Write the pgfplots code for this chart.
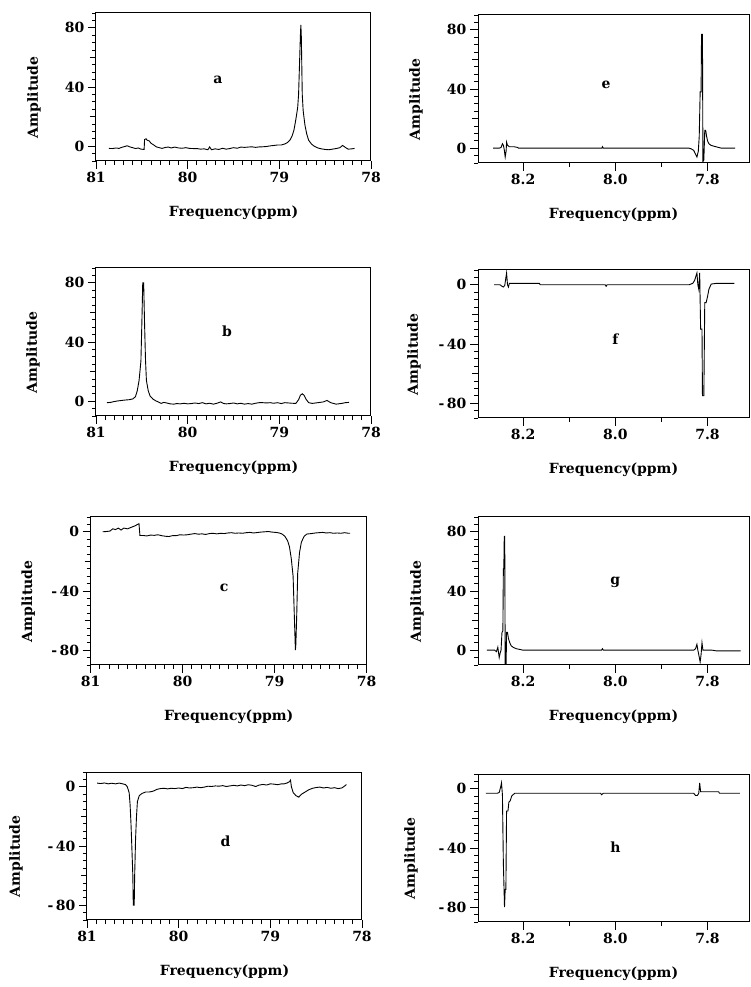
\documentclass[border=0pt]{standalone}
\usepackage{fontspec}
\setmainfont{DejaVu Serif}
\usepackage{pgfplots}
\pgfplotsset{compat=1.18}

\newcommand{\lab}{\fontsize{14}{16}\selectfont\bfseries}
\pgfplotsset{
  nmr/.style={
    scale only axis, height=148pt,
    x dir=reverse, tick align=outside, tick pos=left,
    axis line style={line width=1pt},
    major tick length=8pt, minor tick length=4pt,
    every tick/.append style={black, line width=0.8pt},
    tick label style={font=\lab},
    label style={font=\lab},
    xlabel={Frequency(ppm)}, ylabel={Amplitude},
    xlabel style={at={(axis description cs:0.5,-0.351)}, anchor=center},
    every axis plot post/.append style={black, line width=0.9pt, mark=none},
  },
  ylab/.style={ylabel style={at={(axis description cs:#1,0.43)}, anchor=center}},
  ppmlow/.style={nmr, width=275pt, xmin=78, xmax=81,
    xtick={78,79,80,81}, xticklabels={78,79,80,81}, minor x tick num=9},
  ppmhigh/.style={nmr, width=271pt, xmin=7.71, xmax=8.298,
    xtick={7.8,8.0,8.2}, xticklabels={7.8,8.0,8.2}, minor xtick={7.9,8.1}},
  pos/.style={ymin=-10, ymax=90, ytick={0,40,80}, yticklabels={0,40,80},
    minor ytick={-10,-5,...,90},
    extra y ticks={20,60}, extra y tick labels={}, extra y tick style={major tick length=6pt}},
  neg/.style={ymin=-90, ymax=10, ytick={-80,-40,0},
    yticklabels={-\hspace{2.5pt}80,-\hspace{2.5pt}40,0},
    minor ytick={-90,-85,...,10},
    extra y ticks={-60,-20}, extra y tick labels={}, extra y tick style={major tick length=6pt}},
}

\begin{document}
\begin{tikzpicture}
\path[use as bounding box] (0,0) rectangle (750pt,987pt);

% a
\begin{axis}[ppmlow, pos, ylab=-0.2255, at={(96pt,826pt)}, anchor=south west]
\addplot coordinates {
(80.86,-1.5)(80.82,-1.6)(80.78,-1.2)(80.75,-1.5)(80.72,-0.8)(80.69,-0.3)(80.66,0.3)
(80.63,-0.5)(80.60,-1.0)(80.57,-1.6)(80.54,-1.2)(80.51,-2.0)(80.475,-2.2)(80.47,4.5)
(80.455,5.0)(80.44,4.0)(80.42,3.6)(80.40,2.0)(80.37,0.8)(80.34,-0.5)(80.31,-1.0)
(80.28,-1.5)(80.24,-0.8)(80.21,-0.6)(80.18,-1.2)(80.14,-0.6)(80.10,-1.2)(80.06,-1.4)
(80.02,-1.0)(79.98,-1.5)(79.94,-1.6)(79.90,-1.6)(79.86,-2.0)(79.82,-1.8)(79.78,-2.4)
(79.76,-0.5)(79.74,-2.4)(79.70,-1.8)(79.66,-2.2)(79.62,-1.4)(79.58,-2.0)(79.54,-1.6)
(79.50,-1.0)(79.46,-1.4)(79.42,-0.6)(79.38,-0.8)(79.34,-0.6)(79.30,-0.4)(79.26,-0.8)
(79.22,-0.5)(79.18,-0.4)(79.14,-0.2)(79.10,0.2)(79.06,0.5)(79.02,0.8)(78.98,0.8)
(78.94,1.5)(78.91,2.5)(78.88,4.5)(78.86,7)(78.84,11)(78.82,18)(78.80,26)(78.79,35)
(78.78,55)(78.77,75)(78.765,82)(78.76,74)(78.75,35)(78.74,24)(78.72,14)(78.70,8)
(78.68,4)(78.65,1.5)(78.62,0)(78.58,-1.2)(78.54,-1.8)(78.50,-2.2)(78.46,-2.4)
(78.42,-2.0)(78.38,-1.6)(78.34,-1.0)(78.31,0.5)(78.28,-0.8)(78.25,-2.0)(78.21,-1.8)
(78.18,-1.5)
};
\node[font=\lab] at (axis cs:79.67,45) {a};
\end{axis}

% b
\begin{axis}[ppmlow, pos, ylab=-0.229, at={(96pt,571pt)}, anchor=south west]
\addplot coordinates {
(80.88,-1.0)(80.84,-0.8)(80.80,-0.2)(80.76,0.2)(80.72,0.5)(80.68,0.8)(80.64,1.0)
(80.60,1.5)(80.57,3)(80.55,7)(80.53,14)(80.51,27)(80.50,52)(80.49,80)(80.48,80)
(80.47,52)(80.46,28)(80.45,14)(80.43,7)(80.41,3.5)(80.38,1.5)(80.35,0.3)(80.32,-0.5)
(80.29,-1.5)(80.26,-0.8)(80.23,-1.2)(80.19,-1.8)(80.15,-2.0)(80.12,-1.6)(80.08,-1.8)
(80.04,-1.4)(80.0,-1.8)(79.96,-1.6)(79.92,-1.2)(79.88,-1.6)(79.84,-1.0)(79.80,-1.8)
(79.76,-1.4)(79.72,-2.0)(79.68,-1.4)(79.64,-0.5)(79.61,-1.5)(79.58,-1.8)(79.54,-1.6)
(79.50,-1.2)(79.46,-1.8)(79.42,-1.4)(79.38,-2.0)(79.34,-1.6)(79.30,-2.0)(79.26,-1.4)
(79.22,-1.0)(79.18,-1.0)(79.14,-1.2)(79.10,-1.0)(79.06,-1.4)(79.02,-1.0)(78.98,-1.6)
(78.94,-1.0)(78.90,-1.2)(78.86,-1.4)(78.82,-1.5)(78.79,1)(78.77,4)(78.75,5)(78.73,4)
(78.71,1.5)(78.68,-1)(78.64,-1.5)(78.58,-1)(78.52,-0.5)(78.48,0.5)(78.44,-1)
(78.38,-2)(78.32,-1.5)(78.28,-1.0)(78.24,-0.8)
};
\node[font=\lab] at (axis cs:79.57,47) {b};
\end{axis}

% c
\begin{axis}[ppmlow, neg, width=276pt, ylab=-0.226, at={(90.7pt,322pt)}, anchor=south west]
\addplot coordinates {
(80.87,0)(80.83,0.2)(80.79,0.5)(80.76,2)(80.73,1.5)(80.70,2.5)(80.67,1.2)(80.64,2.5)
(80.60,2)(80.56,3)(80.52,4)(80.49,5)(80.475,5.5)(80.465,-2.5)(80.43,-2.5)(80.39,-2.8)
(80.35,-2.2)(80.31,-2.4)(80.27,-2.0)(80.23,-2.6)(80.19,-3.0)(80.15,-3.2)(80.11,-2.6)
(80.07,-2.6)(80.03,-2.0)(79.99,-2.2)(79.95,-2.0)(79.91,-1.6)(79.87,-1.2)(79.83,-1.6)
(79.79,-1.4)(79.75,-1.8)(79.71,-1.2)(79.67,-1.0)(79.63,-1.4)(79.59,-1.0)(79.55,-1.2)
(79.51,-0.8)(79.47,-0.6)(79.43,-1.0)(79.39,-0.8)(79.35,-1.0)(79.31,-0.6)(79.27,-0.4)
(79.23,-0.8)(79.19,-0.5)(79.15,-0.2)(79.11,0)(79.07,0.2)(79.03,-0.2)(78.99,-0.4)
(78.95,-0.8)(78.92,-1.5)(78.89,-3)(78.86,-6)(78.84,-10)(78.82,-18)(78.80,-30)
(78.79,-50)(78.78,-70)(78.775,-80)(78.77,-76)(78.76,-55)(78.75,-28)(78.73,-14)
(78.71,-7)(78.68,-3)(78.65,-1.5)(78.60,-1.2)(78.56,-0.8)(78.52,-0.6)(78.48,-0.4)
(78.44,-0.8)(78.40,-0.6)(78.36,-1.0)(78.32,-0.8)(78.28,-1.0)(78.24,-0.6)(78.20,-1.0)
(78.18,-1.0)
};
\node[font=\lab] at (axis cs:79.55,-37.8) {c};
\end{axis}

% d
\begin{axis}[ppmlow, neg, ylab=-0.258, at={(87pt,67pt)}, anchor=south west]
\addplot coordinates {
(80.89,2.5)(80.85,2.2)(80.81,2.6)(80.77,2.0)(80.73,2.4)(80.69,2.0)(80.65,2.5)(80.61,2.0)
(80.58,1.5)(80.56,0)(80.54,-4)(80.53,-12)(80.52,-25)(80.51,-42)(80.50,-60)(80.495,-80)
(80.485,-80)(80.48,-60)(80.47,-35)(80.46,-20)(80.45,-10)(80.43,-6)(80.40,-4.5)
(80.36,-3.5)(80.32,-3.5)(80.28,-3.0)(80.24,-1.8)(80.20,-1.2)(80.16,-1.0)(80.12,-1.4)
(80.08,-1.0)(80.04,-1.2)(80.0,-0.8)(79.96,-1.2)(79.92,-0.4)(79.88,-0.8)(79.84,-0.6)
(79.80,-0.2)(79.76,-0.6)(79.72,-0.2)(79.68,0.4)(79.64,0.2)(79.60,0.6)(79.56,0.4)
(79.52,0.8)(79.48,0.2)(79.44,0.6)(79.40,1.0)(79.36,0.6)(79.32,1.2)(79.28,0.8)
(79.24,1.4)(79.20,1.0)(79.16,0.2)(79.12,1.2)(79.08,1.6)(79.04,1.2)(79.0,2.0)
(78.96,1.8)(78.92,1.4)(78.88,2.0)(78.85,2.0)(78.82,2.5)(78.79,3.5)(78.78,4.5)
(78.77,0)(78.75,-4)(78.72,-6)(78.69,-7)(78.66,-5)(78.62,-3.5)(78.58,-2)(78.54,-1)
(78.50,-0.5)(78.46,-0.2)(78.42,-0.8)(78.38,-0.4)(78.34,-1.0)(78.30,-0.6)(78.26,-1.2)
(78.22,-0.8)(78.19,0.5)(78.17,1.5)
};
\node[font=\lab] at (axis cs:79.49,-37) {d};
\end{axis}

% e
\begin{axis}[ppmhigh, pos, ylab=-0.229, at={(478pt,824pt)}, anchor=south west]
\addplot coordinates {
(8.265,0)(8.252,0)(8.248,0.5)(8.245,3)(8.243,2)(8.241,-1)(8.239,-6)(8.237,-2)
(8.236,4)(8.234,2)(8.230,1)(8.220,1)(8.212,0.5)(8.210,0)(8.029,0)(8.028,1)(8.026,0)
(7.840,0)(7.835,-0.5)(7.830,-1.5)(7.826,-4)(7.823,-6)(7.820,-2)(7.818,8)(7.816,38)
(7.814,38)(7.813,77)(7.811,77)(7.810,-9)(7.808,-8)(7.806,12)(7.804,12)(7.802,8)
(7.800,5)(7.797,3)(7.793,2)(7.788,1.5)(7.782,1)(7.776,0.5)(7.770,0)(7.740,0)
};
\node[font=\lab] at (axis cs:8.02,43) {e};
\end{axis}

% f
\begin{axis}[ppmhigh, neg, ylab=-0.236, at={(478pt,569pt)}, anchor=south west]
\addplot coordinates {
(8.263,0)(8.250,0)(8.246,-1)(8.243,-1.5)(8.240,-0.5)(8.236,8)(8.234,0)(8.232,-1.5)
(8.230,1)(8.226,1)(8.165,1)(8.163,0)(8.022,0)(8.020,-1)(8.018,0)(7.840,0)(7.832,1)
(7.828,3)(7.823,8)(7.821,0)(7.819,-3)(7.817,8)(7.815,-30)(7.812,-30)(7.811,-75)
(7.808,-75)(7.806,-12)(7.803,-12)(7.800,-8)(7.797,-3)(7.792,0.5)(7.780,1)(7.742,1)
};
\node[font=\lab] at (axis cs:8.0,-37) {f};
\end{axis}

% g
\begin{axis}[ppmhigh, pos, ylab=-0.225, at={(478pt,322pt)}, anchor=south west]
\addplot coordinates {
(8.279,0)(8.262,0)(8.258,-1)(8.255,2)(8.252,-5)(8.250,-2)(8.248,0)(8.246,12)
(8.244,13)(8.243,55)(8.242,55)(8.241,77)(8.240,77)(8.239,-10)(8.237,-10)(8.236,12)
(8.234,12)(8.232,8)(8.229,5)(8.226,3)(8.222,2)(8.215,1)(8.207,0.5)(8.200,0)
(8.030,0)(8.028,1)(8.026,0)(7.830,0)(7.826,1)(7.823,4)(7.821,0)(7.819,-3)(7.816,-8)
(7.814,-3)(7.812,5)(7.810,0)(7.790,0)(7.780,-0.5)(7.728,-0.5)
};
\node[font=\lab] at (axis cs:8.0,46) {g};
\end{axis}

% h
\begin{axis}[ppmhigh, neg, ylab=-0.247, at={(478pt,65pt)}, anchor=south west]
\addplot coordinates {
(8.281,-3)(8.256,-3)(8.252,-2.5)(8.249,1)(8.247,4)(8.245,-4)(8.243,-50)(8.2405,-80)
(8.239,-68)(8.2375,-68)(8.236,-15)(8.233,-15)(8.231,-9)(8.228,-8)(8.225,-5)
(8.222,-4)(8.218,-3)(8.100,-3)(8.032,-3)(8.030,-4)(8.026,-3)(7.830,-3)(7.826,-4.5)
(7.822,-4.5)(7.819,-3)(7.817,4)(7.815,-2)(7.790,-2)(7.776,-2)(7.774,-3)(7.730,-3)
};
\node[font=\lab] at (axis cs:8.0,-39.5) {h};
\end{axis}
\end{tikzpicture}
\end{document}
